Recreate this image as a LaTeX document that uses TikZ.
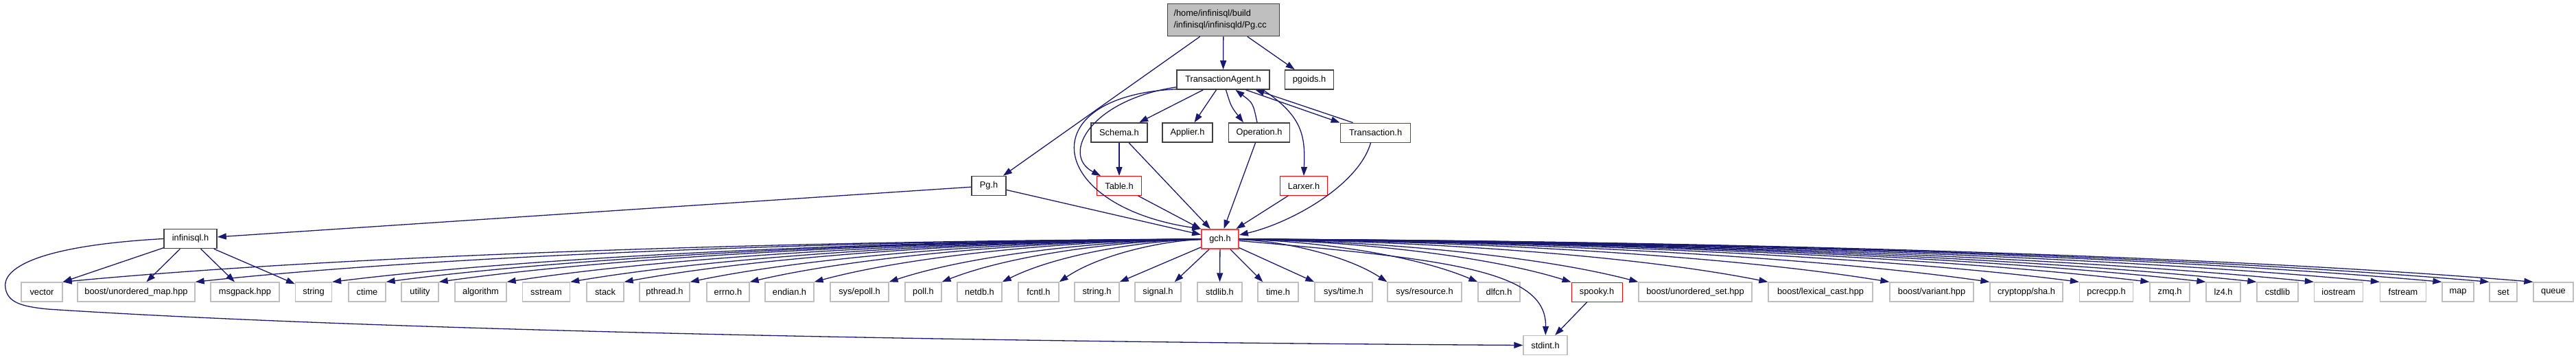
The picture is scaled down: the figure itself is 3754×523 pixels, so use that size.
\documentclass[tikz,border=0pt]{standalone}
\usepackage{fontspec}
\usepackage{tikz}
\usetikzlibrary{arrows.meta}
\newfontfamily\doxyfont{Liberation Sans}
\definecolor{edgecolor}{HTML}{191970}
\definecolor{leafgray}{HTML}{BFBFBF}

\begin{document}
\begin{tikzpicture}[
    x=1pt, y=-1pt,
    hdr/.style={rectangle, draw=black!75, fill=white, line width=1.6pt,
                minimum height=28pt, inner sep=0pt,
                font=\doxyfont\fontsize{12.8}{17}\selectfont},
    hdrred/.style={hdr, draw=red, line width=1pt},
    leaf/.style={hdr, draw=leafgray, line width=1.3pt},
    edge/.style={-{Triangle[length=13pt, width=9pt]}, line width=1.3pt, color=edgecolor}
]
    \useasboundingbox (0,0) rectangle (3754,523);

    \node[hdr, fill=leafgray, text width=145pt, inner sep=9pt, align=left] (pgcc) at (1783,29)
        {/home/infinisql/build\\/infinisql/infinisqld/Pg.cc};
    \node[hdr, minimum width=135] (tagent) at (1782.5,116) {TransactionAgent.h};
    \node[hdr, minimum width=71] (pgoids) at (1908,116) {pgoids.h};
    \node[hdr, minimum width=82] (schema) at (1631,193) {Schema.h};
    \node[hdr, minimum width=73] (applier) at (1730.5,193) {Applier.h};
    \node[hdr, minimum width=89] (operation) at (1835,193) {Operation.h};
    \node[hdrred, minimum width=102] (transaction) at (2004.6,193) {Transaction.h};
    \node[hdr, minimum width=50] (pgh) at (1441,270.5) {Pg.h};
    \node[hdrred, minimum width=65] (table) at (1631,270.5) {Table.h};
    \node[hdrred, minimum width=69] (larxer) at (1900,270.5) {Larxer.h};
    \node[hdr, minimum width=77] (infinisql) at (277.5,347.5) {infinisql.h};
    \node[hdrred, minimum width=54, line width=1.8pt, draw=red!75] (gch) at (1778,348) {gch.h};

    \node[leaf, minimum width=60] (vector) at (61,425) {vector};
    \node[leaf, minimum width=171] (umap) at (198.5,425) {boost/unordered\_map.hpp};
    \node[leaf, minimum width=100] (msgpack) at (357,425) {msgpack.hpp};
    \node[leaf, minimum width=53] (string) at (457,425) {string};
    \node[leaf, minimum width=54] (ctime) at (535,425) {ctime};
    \node[leaf, minimum width=54] (utility) at (612,425) {utility};
    \node[leaf, minimum width=75] (algorithm) at (700.5,425) {algorithm};
    \node[leaf, minimum width=69] (sstream) at (796,425) {sstream};
    \node[leaf, minimum width=54] (stack) at (882,425) {stack};
    \node[leaf, minimum width=73] (pthread) at (968.5,425) {pthread.h};
    \node[leaf, minimum width=62] (errno) at (1061,425) {errno.h};
    \node[leaf, minimum width=71] (endian) at (1150.5,425) {endian.h};
    \node[leaf, minimum width=85] (sysepoll) at (1252.5,425) {sys/epoll.h};
    \node[leaf, minimum width=53] (poll) at (1345.5,425) {poll.h};
    \node[leaf, minimum width=65] (netdb) at (1427.5,425) {netdb.h};
    \node[leaf, minimum width=59] (fcntl) at (1513.5,425) {fcntl.h};
    \node[leaf, minimum width=65] (stringh) at (1598.5,425) {string.h};
    \node[leaf, minimum width=67] (signal) at (1687.5,425) {signal.h};
    \node[leaf, minimum width=65] (stdlib) at (1777.5,425) {stdlib.h};
    \node[leaf, minimum width=59] (timeh) at (1862.5,425) {time.h};
    \node[leaf, minimum width=84] (systime) at (1958,425) {sys/time.h};
    \node[leaf, minimum width=108] (sysres) at (2076,425) {sys/resource.h};
    \node[leaf, minimum width=61] (dlfcn) at (2184.5,425) {dlfcn.h};
    \node[hdrred, minimum width=74] (spooky) at (2327,425) {spooky.h};
    \node[leaf, minimum width=165] (uset) at (2470.5,425) {boost/unordered\_set.hpp};
    \node[leaf, minimum width=152] (lexcast) at (2653,425) {boost/lexical\_cast.hpp};
    \node[leaf, minimum width=122] (variant) at (2815,425) {boost/variant.hpp};
    \node[leaf, minimum width=106] (sha) at (2953,425) {cryptopp/sha.h};
    \node[leaf, minimum width=78] (pcrecpp) at (3069.5,425) {pcrecpp.h};
    \node[leaf, minimum width=58] (zmq) at (3162,425) {zmq.h};
    \node[leaf, minimum width=50] (lzfour) at (3240,425) {lz4.h};
    \node[leaf, minimum width=60] (cstdlib) at (3319,425) {cstdlib};
    \node[leaf, minimum width=71] (iostream) at (3408,425) {iostream};
    \node[leaf, minimum width=67] (fstream) at (3502,425) {fstream};
    \node[leaf, minimum width=46] (map) at (3582,425) {map};
    \node[leaf, minimum width=40] (set) at (3648,425) {set};
    \node[leaf, minimum width=58] (queue) at (3721,425) {queue};
    \node[leaf, minimum width=64] (stdint) at (2252,502.5) {stdint.h};

    \draw[edge] (pgcc) -- (tagent);
    \draw[edge] (pgcc) -- (pgoids);
    \draw[edge] (pgcc) -- (pgh);

    \draw[edge] (tagent) -- (schema);
    \draw[edge] (tagent) -- (applier);
    \draw[edge] ([xshift=4pt]tagent.south) .. controls (1794,155) .. ([xshift=-23pt]operation.north);
    \draw[edge] ([xshift=-3pt]operation.north) .. controls (1826,150) .. ([xshift=18pt]tagent.south);
    \draw[edge] ([xshift=33pt]tagent.south) -- ([xshift=-52pt]transaction.north);
    \draw[edge] ([xshift=-33pt]transaction.north) -- ([xshift=47pt]tagent.south);
    \draw[edge] ([xshift=58pt]tagent.south) .. controls (1900,170) and (1902,200) .. (larxer.north);
    \draw[edge] ([yshift=4pt]tagent.south west) .. controls (1590,145) and (1545,225) .. ([xshift=-27pt]table.north);
    \draw[edge] ([yshift=1pt]tagent.south west) .. controls (1500,140) and (1525,300) .. (gch.north west);

    \draw[edge] (schema) -- (table);
    \draw[edge] (schema) -- (gch);
    \draw[edge] (operation) -- (gch);
    \draw[edge] ([xshift=-7pt]transaction.south) .. controls (1980,270) and (1880,325) .. ([yshift=6pt]gch.east);
    \draw[edge] (table) -- (gch);
    \draw[edge] (larxer) -- (gch);
    \draw[edge] (pgh) -- (gch);
    \draw[edge] (pgh) -- (infinisql);

    \draw[edge] (infinisql) -- (vector.north east);
    \draw[edge] (infinisql) -- (umap);
    \draw[edge] (infinisql) -- (msgpack);
    \draw[edge] (infinisql) -- (string);
    \draw[edge] (infinisql.west) .. controls (50,358) and (2,392) .. (8,420)
        .. controls (12,440) and (30,446) .. (70,450)
        .. controls (500,478) and (1300,497) .. (stdint.west);

    \foreach \t/\d in {vector/1687,umap/1494,string/1294,ctime/1216,utility/1139,algorithm/1040,
                       sstream/947,stack/869,pthread/773,errno/686,endian/592,sysepoll/483,
                       poll/406,netdb/318,fcntl/235}
        \draw[edge] (gch) .. controls +(-0.35*\d,2) and +(0.25*\d,-40) .. (\t.north east);
    \draw[edge] (gch) -- (stringh.north east);
    \draw[edge] (gch) -- ([xshift=-10pt]signal.north east);
    \draw[edge] (gch) -- (stdlib);
    \draw[edge] (gch) -- ([xshift=8pt]timeh.north west);
    \draw[edge] (gch) -- (systime.north west);
    \foreach \t/\d in {sysres/244,dlfcn/376,spooky/512,uset/610,lexcast/799,variant/976,
                       sha/1122,pcrecpp/1252,zmq/1355,lzfour/1437,cstdlib/1511,iostream/1594,
                       fstream/1690,map/1781,set/1850,queue/1914}
        \draw[edge] (gch) .. controls +(0.35*\d,2) and +(-0.25*\d,-40) .. (\t.north west);
    \draw[edge] (gch) .. controls (2120,378) and (2254,395) .. (stdint);
    \draw[edge] (spooky) -- (stdint);
\end{tikzpicture}
\end{document}
